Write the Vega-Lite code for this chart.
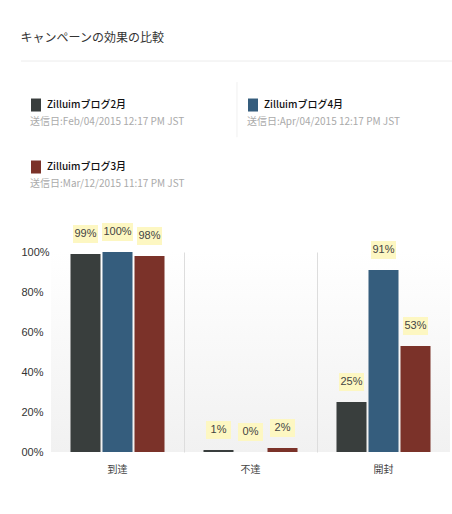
{
  "$schema": "https://vega.github.io/schema/vega-lite/v6.json",
  "padding": {"left": 20, "top": 31, "right": 0, "bottom": 0},
  "autosize": {"type": "pad"},
  "background": "white",
  "title": {
    "text": "キャンペーンの効果の比較",
    "anchor": "start",
    "font": "Noto Sans CJK JP",
    "fontSize": 12,
    "fontWeight": "normal",
    "color": "#333333",
    "offset": 16
  },
  "datasets": {
    "bars": [
      {"category": "到達", "series": "Zilluimブログ2月", "value": 0.99},
      {"category": "到達", "series": "Zilluimブログ4月", "value": 1.0},
      {"category": "到達", "series": "Zilluimブログ3月", "value": 0.98},
      {"category": "不達", "series": "Zilluimブログ2月", "value": 0.01},
      {"category": "不達", "series": "Zilluimブログ4月", "value": 0.0},
      {"category": "不達", "series": "Zilluimブログ3月", "value": 0.02},
      {"category": "開封", "series": "Zilluimブログ2月", "value": 0.25},
      {"category": "開封", "series": "Zilluimブログ4月", "value": 0.91},
      {"category": "開封", "series": "Zilluimブログ3月", "value": 0.53}
    ],
    "legend": [
      {"series": "Zilluimブログ2月", "date": "送信日:Feb/04/2015 12:17 PM JST", "col": 0, "row": 0},
      {"series": "Zilluimブログ4月", "date": "送信日:Apr/04/2015 12:17 PM JST", "col": 1, "row": 0},
      {"series": "Zilluimブログ3月", "date": "送信日:Mar/12/2015 11:17 PM JST", "col": 0, "row": 1}
    ]
  },
  "spacing": 17,
  "vconcat": [
    {
      "width": 402,
      "height": 145,
      "view": {"stroke": null, "fill": null},
      "layer": [
        {
          "data": {"values": [{}]},
          "mark": {"type": "rule", "color": "#ececec", "strokeWidth": 1},
          "encoding": {
            "x": {"datum": -0.1382, "type": "quantitative", "scale": {"domain": [0, 1.8525], "nice": false, "zero": false}, "axis": null},
            "x2": {"datum": 1.8525},
            "y": {"datum": -0.71, "type": "quantitative", "scale": {"domain": [-0.71, 1.629], "reverse": true, "nice": false, "zero": false}, "axis": null}
          }
        },
        {
          "data": {"values": [{}]},
          "mark": {"type": "rule", "color": "#f0f0f0", "strokeWidth": 1},
          "encoding": {
            "x": {"datum": 0.857, "type": "quantitative"},
            "y": {"datum": -0.37, "type": "quantitative"},
            "y2": {"datum": 0.52}
          }
        },
        {
          "data": {"name": "legend"},
          "mark": {"type": "point", "filled": true, "opacity": 1, "xOffset": -15, "shape": "M-0.77,-1H0.77V1H-0.77Z", "size": 169},
          "encoding": {
            "x": {"field": "col", "type": "quantitative"},
            "y": {"field": "row", "type": "quantitative"},
            "color": {
              "field": "series",
              "type": "nominal",
              "scale": {
                "domain": ["Zilluimブログ2月", "Zilluimブログ4月", "Zilluimブログ3月"],
                "range": ["#393e3d", "#355d7d", "#7b3229"]
              },
              "legend": null
            }
          }
        },
        {
          "data": {"name": "legend"},
          "mark": {"type": "text", "align": "left", "baseline": "middle", "dx": -4, "font": "Noto Sans CJK JP", "fontSize": 10, "fontWeight": 500, "color": "#111111"},
          "encoding": {
            "x": {"field": "col", "type": "quantitative"},
            "y": {"field": "row", "type": "quantitative"},
            "text": {"field": "series"}
          }
        },
        {
          "data": {"name": "legend"},
          "mark": {"type": "text", "align": "left", "baseline": "middle", "dx": -21, "dy": 17, "font": "Noto Sans CJK JP", "fontSize": 10, "color": "#aaaaaa"},
          "encoding": {
            "x": {"field": "col", "type": "quantitative"},
            "y": {"field": "row", "type": "quantitative"},
            "text": {"field": "date"}
          }
        }
      ]
    },
    {
      "width": 399,
      "height": 200,
      "data": {"name": "bars"},
      "view": {
        "stroke": null,
        "fill": {
          "gradient": "linear", "x1": 0, "y1": 0, "x2": 0, "y2": 1,
          "stops": [{"offset": 0, "color": "#ffffff"}, {"offset": 1, "color": "#f1f1f1"}]
        }
      },
      "encoding": {
        "x": {
          "field": "category",
          "type": "nominal",
          "sort": ["到達", "不達", "開封"],
          "scale": {"paddingInner": 0, "paddingOuter": 0},
          "axis": {
            "title": null,
            "labelAngle": 0,
            "ticks": false,
            "domain": false,
            "labelPadding": 12,
            "labelFont": "Noto Sans CJK JP",
            "labelFontSize": 10,
            "labelColor": "#444444",
            "grid": true,
            "bandPosition": 0,
            "gridColor": "#dddddd",
            "gridOpacity": {"condition": {"test": "datum.value === '到達'", "value": 0}, "value": 1}
          }
        },
        "xOffset": {
          "field": "series",
          "type": "nominal",
          "sort": ["Zilluimブログ2月", "Zilluimブログ4月", "Zilluimブログ3月"],
          "scale": {"paddingInner": 0.0625, "paddingOuter": 0.609}
        },
        "y": {
          "field": "value",
          "type": "quantitative",
          "scale": {"domain": [0, 1], "nice": false},
          "axis": {
            "title": null,
            "values": [0, 0.2, 0.4, 0.6, 0.8, 1],
            "labelExpr": "datum.value == 0 ? '00%' : format(datum.value, '.0%')",
            "ticks": false,
            "domain": false,
            "grid": false,
            "labelAlign": "left",
            "labelPadding": 30,
            "labelFlush": false,
            "labelOverlap": false,
            "labelFont": "Liberation Sans",
            "labelFontSize": 11,
            "labelColor": "#333333"
          }
        }
      },
      "layer": [
        {
          "mark": {"type": "bar"},
          "encoding": {
            "color": {"field": "series", "type": "nominal", "legend": null}
          }
        },
        {
          "mark": {"type": "point", "filled": true, "opacity": 1, "color": "#fdf7c2", "yOffset": -20},
          "encoding": {
            "shape": {"condition": {"test": "datum.value == 1", "value": "M-1,-0.58H1V0.58H-1Z"}, "value": "M-1,-0.72H1V0.72H-1Z"},
            "size": {"condition": {"test": "datum.value == 1", "value": 961}, "value": 625}
          }
        },
        {
          "mark": {"type": "text", "dy": -20, "baseline": "middle", "font": "Liberation Sans", "fontSize": 11, "color": "#444444"},
          "encoding": {
            "text": {"field": "value", "type": "quantitative", "format": ".0%"}
          }
        }
      ]
    }
  ],
  "config": {
    "font": "Noto Sans CJK JP",
    "view": {"stroke": null}
  }
}
